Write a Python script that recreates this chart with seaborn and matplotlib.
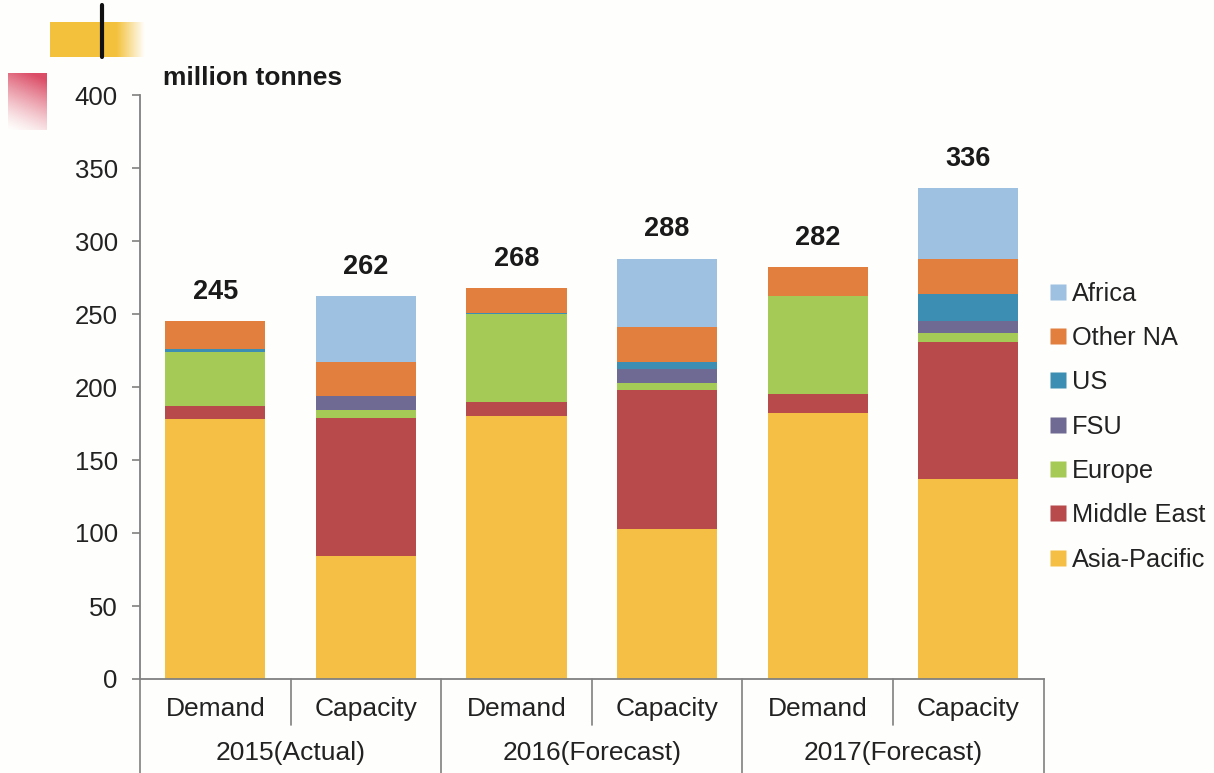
import numpy as np
import pandas as pd
import matplotlib
matplotlib.use("Agg")
import matplotlib.pyplot as plt
from matplotlib.lines import Line2D
import seaborn as sns

# ---- data (million tonnes) ----
years = ["2015(Actual)", "2016(Forecast)", "2017(Forecast)"]
kinds = ["Demand", "Capacity"]
regions = ["Asia-Pacific", "Middle East", "Europe", "FSU", "US", "Other NA", "Africa"]

asia_pacific = [178, 84, 180, 103, 182, 137]
middle_east  = [9, 95, 10, 95, 13, 94]
europe       = [37, 5, 60, 5, 67, 6]
fsu          = [0, 10, 0, 9, 0, 8]
us           = [2, 0, 1, 5, 0, 19]
other_na     = [19, 23, 17, 24, 20, 24]
africa       = [0, 45, 0, 47, 0, 48]
totals       = [245, 262, 268, 288, 282, 336]

colors = {
    "Asia-Pacific": "#F5BF45",
    "Middle East": "#B84A4B",
    "Europe": "#A6CA56",
    "FSU": "#6F6A93",
    "US": "#3C8FB2",
    "Other NA": "#E27F3E",
    "Africa": "#9EC1E1",
}

series = [asia_pacific, middle_east, europe, fsu, us, other_na, africa]
bars = [f"{y}|{k}" for y in years for k in kinds]

df = pd.DataFrame({"bar": bars})
for name, vals in zip(regions, series):
    df[name] = vals
# cumulative tops for stacking
cum = df[regions].cumsum(axis=1)

sns.set_theme(style="white")
plt.rcParams["font.family"] = ["Liberation Sans", "DejaVu Sans"]

fig = plt.figure(figsize=(12.14, 7.73), dpi=100, facecolor="#FEFEFC")
ax = fig.add_axes([140 / 1214, 1 - 679 / 773, 903.5 / 1214, 584 / 773])
ax.set_facecolor("#FEFEFC")

# draw stacked bars: tallest cumulative layer first, lower layers on top
for name in reversed(regions):
    sns.barplot(x=df["bar"], y=cum[name], color=colors[name], width=0.665,
                saturation=1, ax=ax, order=bars, linewidth=0)

for i, t in enumerate(totals):
    ax.text(i, t + 11, str(t), ha="center", va="bottom", fontsize=19.5,
            fontweight="bold", color="#1a1a1a")

ax.set_ylim(0, 400)
ax.set_xlim(-0.5, 5.5)
ax.set_yticks(np.arange(0, 401, 50))
ax.tick_params(axis="y", labelsize=18.5, colors="#222222", length=6, width=1.2,
               direction="out", left=True, pad=10)
ax.tick_params(axis="y", color="#808080")
ax.set_xticks([])
ax.set_xlabel("")
ax.set_ylabel("")
for s in ["top", "right"]:
    ax.spines[s].set_visible(False)
for s in ["left", "bottom"]:
    ax.spines[s].set_color("#808080")
    ax.spines[s].set_linewidth(1.3)

# multi-level category axis
trans = ax.get_xaxis_transform()
for i, b in enumerate(bars):
    ax.text(i, -0.051, b.split("|")[1], transform=trans, ha="center",
            va="center", fontsize=19, color="#222222")
for j, y in enumerate(years):
    ax.text(2 * j + 0.5, -0.126, y, transform=trans, ha="center",
            va="center", fontsize=19, color="#222222")
for xv in [0.5, 2.5, 4.5]:
    ax.add_line(Line2D([xv, xv], [0, -0.079], transform=trans, color="#808080",
                       lw=1.2, clip_on=False))
for xv in [-0.5, 1.5, 3.5, 5.5]:
    ax.add_line(Line2D([xv, xv], [0, -0.17], transform=trans, color="#808080",
                       lw=1.2, clip_on=False))

fig.text(163 / 1214, 1 - 78 / 773, "million tonnes", fontsize=19,
         fontweight="bold", color="#1a1a1a", va="center", ha="left")

# legend
handles = [Line2D([], [], marker="s", linestyle="none", markersize=11,
                  markerfacecolor=colors[r], markeredgecolor="none")
           for r in reversed(regions)]
fig.legend(handles, list(reversed(regions)), loc="upper left",
           bbox_to_anchor=(1039 / 1214, 1 - 269 / 773), frameon=False,
           fontsize=18.3, labelspacing=0.8, handlelength=0.5,
           handletextpad=0.3, borderpad=0, labelcolor="#222222")

# header decorations
deco = fig.add_axes([50 / 1214, 1 - 57 / 773, 95 / 1214, 35 / 773])
gx = np.linspace(0, 1, 200)
alpha = np.clip((1 - gx) / 0.3, 0, 1)
img = np.zeros((10, 200, 4))
img[..., 0] = 0.953
img[..., 1] = 0.757
img[..., 2] = 0.235
img[..., 3] = alpha[None, :]
deco.imshow(img, aspect="auto", extent=[0, 1, 0, 1])
deco.axis("off")
fig.add_artist(Line2D([102 / 1214, 102 / 1214], [1 - 5 / 773, 1 - 57 / 773],
                      color="#111111", lw=3))

pink = fig.add_axes([8 / 1214, 1 - 130 / 773, 39 / 1214, 57 / 773])
px, py = np.meshgrid(np.linspace(0, 1, 60), np.linspace(0, 1, 90))
a = np.clip(0.25 * px + 0.85 * (1 - py), 0, 1) ** 1.3
pimg = np.zeros((90, 60, 4))
pimg[..., 0] = 0.86
pimg[..., 1] = 0.30
pimg[..., 2] = 0.40
pimg[..., 3] = a
pink.imshow(pimg, aspect="auto", extent=[0, 1, 0, 1])
pink.axis("off")

fig.savefig("out.png", dpi=100, facecolor=fig.get_facecolor())
